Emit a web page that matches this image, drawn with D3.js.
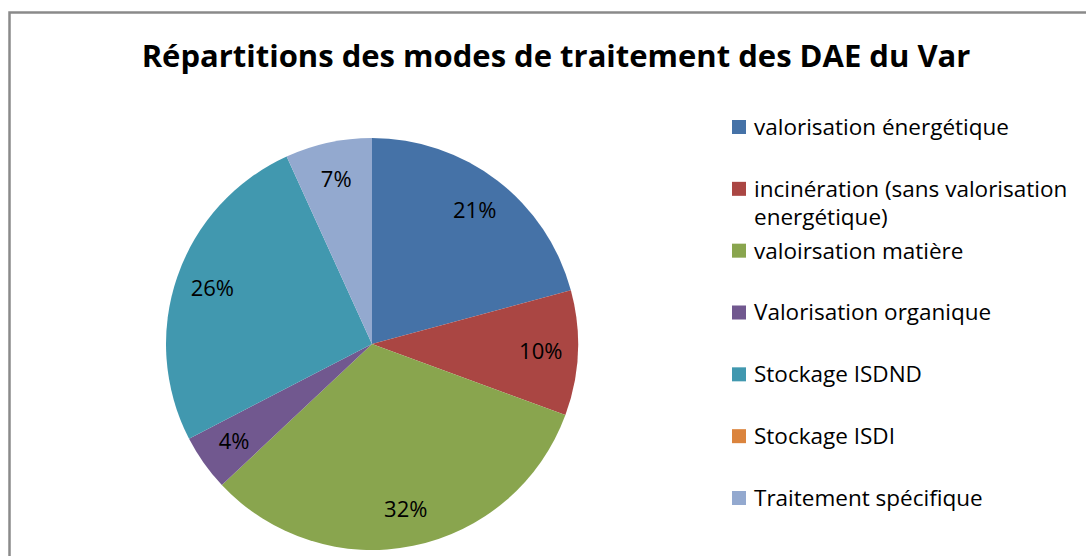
<!DOCTYPE html>
<html>
<head>
<meta charset="utf-8">
<script src="https://cdn.jsdelivr.net/npm/d3@7"></script>
<style>
	body { margin: 0; background: #fff; }
	svg { display: block; }
</style>
</head>
<body>
<div id="vis"></div>
<script>
// declare constants
const FRAME_WIDTH = 1086;
const FRAME_HEIGHT = 556;
const FONT = "'Open Sans', 'Noto Sans', sans-serif";

const TITLE = "Répartitions des modes de traitement des DAE du Var";

// data (percent of total)
const CATEGORIES = [
	"valorisation énergétique",
	"incinération (sans valorisation energétique)",
	"valoirsation matière",
	"Valorisation organique",
	"Stockage ISDND",
	"Stockage ISDI",
	"Traitement spécifique"
];
const VALUES = [20.8, 9.8, 32.4, 4.4, 25.8, 0, 6.8];
const COLORS = ["#4572A7", "#AA4643", "#89A54E", "#71588F", "#4198AF", "#DB843D", "#93A9CF"];

// legend lines (incinération wraps on two lines)
const LEGEND_LINES = [
	["valorisation énergétique"],
	["incinération (sans valorisation", "energétique)"],
	["valoirsation matière"],
	["Valorisation organique"],
	["Stockage ISDND"],
	["Stockage ISDI"],
	["Traitement spécifique"]
];

const CENTER = {x: 372, y: 344};
const RADIUS = 206;

const data = CATEGORIES.map((c, i) => ({category: c, value: VALUES[i], lines: LEGEND_LINES[i]}));

const COLOR_SCALE = d3.scaleOrdinal()
						.domain(CATEGORIES)
						.range(COLORS);

// frame
const FRAME =
d3.select("#vis")
	.append("svg")
		.attr("width", FRAME_WIDTH)
		.attr("height", FRAME_HEIGHT);

// chart border (cropped on the right and bottom)
FRAME.append("rect")
		.attr("x", 9.5)
		.attr("y", 12.5)
		.attr("width", FRAME_WIDTH + 20)
		.attr("height", FRAME_HEIGHT + 20)
		.style("fill", "#fff")
		.style("stroke", "#8a8a8a")
		.style("stroke-width", 2.5);

// title
FRAME.append("text")
		.attr("x", 556)
		.attr("y", 67)
		.attr("text-anchor", "middle")
		.style("font-family", FONT)
		.style("font-weight", "bold")
		.style("font-size", "31px")
		.style("fill", "#000")
		.text(TITLE);

// pie
const PIE = d3.pie()
				.sort(null)
				.value((d) => d.value);

const ARC = d3.arc()
				.innerRadius(0)
				.outerRadius(RADIUS);

const LABEL_ARC = d3.arc()
				.innerRadius(RADIUS * 0.82)
				.outerRadius(RADIUS * 0.82);

const G = FRAME.append("g")
		.attr("transform", "translate(" + CENTER.x + "," + CENTER.y + ")");

const arcs = PIE(data);

G.selectAll("slices")
		.data(arcs)
		.enter()
		.append("path")
			.attr("d", ARC)
			.style("fill", (d) => COLOR_SCALE(d.data.category));

G.selectAll("labels")
		.data(arcs.filter((d) => d.data.value > 0))
		.enter()
		.append("text")
			.attr("transform", (d) => "translate(" + LABEL_ARC.centroid(d) + ")")
			.attr("text-anchor", "middle")
			.attr("dy", "0.35em")
			.style("font-family", FONT)
			.style("font-size", "22px")
			.style("fill", "#000")
			.text((d) => Math.round(d.data.value) + "%");

// legend
const LEGEND_Y = d3.scaleLinear()
					.domain([0, CATEGORIES.length - 1])
					.range([127, 498]);

const LEG = FRAME.selectAll("legend")
		.data(data)
		.enter()
		.append("g")
			.attr("transform", (d, i) => "translate(732," + LEGEND_Y(i) + ")");

LEG.append("rect")
		.attr("x", 0)
		.attr("y", -7)
		.attr("width", 14)
		.attr("height", 14)
		.style("fill", (d) => COLOR_SCALE(d.category));

LEG.each(function(d) {
	d.lines.forEach((line, j) => {
		d3.select(this).append("text")
				.attr("x", 22)
				.attr("y", j * 28)
				.attr("dy", "0.35em")
				.style("font-family", FONT)
				.style("font-size", "22.5px")
				.style("fill", "#000")
				.text(line);
	});
});
</script>
</body>
</html>
